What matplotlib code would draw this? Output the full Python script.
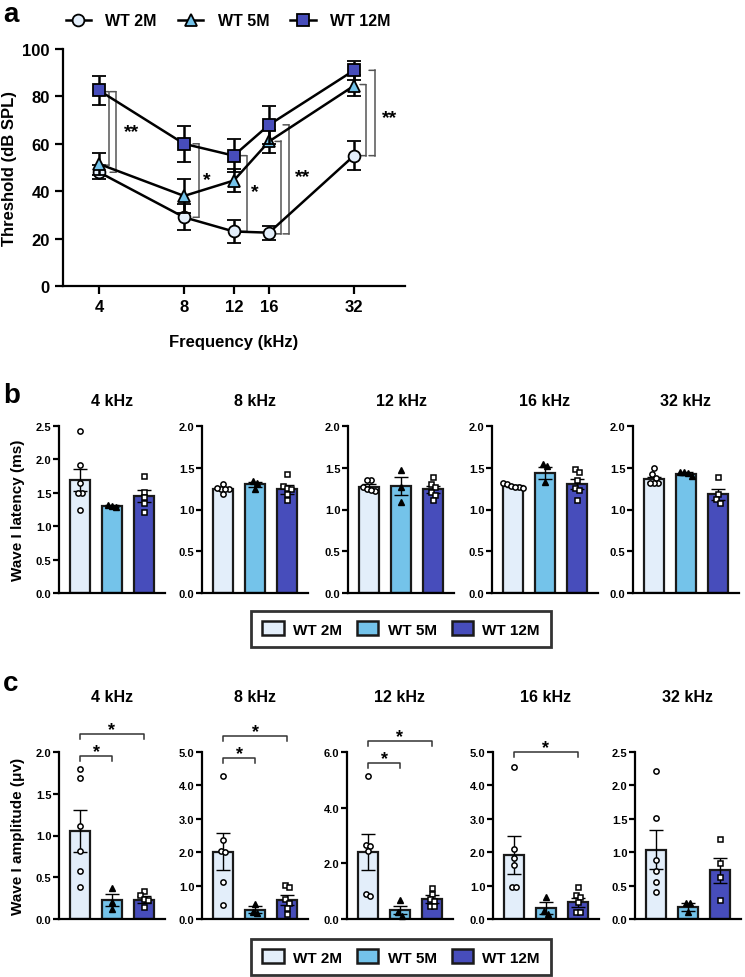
import numpy as np
import matplotlib
matplotlib.use('Agg')
from matplotlib import pyplot as plt
from matplotlib.lines import Line2D
from matplotlib.patches import Patch
from matplotlib.transforms import offset_copy

plt.rcParams['font.family'] = ['Liberation Sans', 'DejaVu Sans']
plt.rcParams['font.weight'] = 'bold'
plt.rcParams['axes.labelweight'] = 'bold'
plt.rcParams['axes.titleweight'] = 'bold'
plt.rcParams['axes.linewidth'] = 1.6
plt.rcParams['xtick.major.width'] = 1.6
plt.rcParams['ytick.major.width'] = 1.6

groups = ['WT 2M', 'WT 5M', 'WT 12M']
freqs = [4, 8, 12, 16, 32]
freq_titles = ['4 kHz', '8 kHz', '12 kHz', '16 kHz', '32 kHz']

# panel a - ABR thresholds (mean, sem)
thr_2m = [48, 29, 23, 22.5, 55]
thr_2m_sem = [3, 5.5, 5, 3, 6]
thr_5m = [51.5, 38, 44.5, 61, 84.5]
thr_5m_sem = [4.5, 7, 5, 5, 4.5]
thr_12m = [82.5, 60, 55, 68, 91]
thr_12m_sem = [6, 7.5, 7, 8, 4]

# significance brackets in panel a: (freq, y_top, y_bottom, x offset px)
a_brackets = [(4, 82, 51, 10), (4, 82, 48, 17),
              (8, 60, 29, 15), (12, 55, 23, 13),
              (16, 61, 22, 12), (16, 68, 22, 20),
              (32, 85, 55, 12), (32, 91, 55, 21)]
a_stars = [(4, '**', 65, 33), (8, '*', 45, 23), (12, '*', 40, 21),
           (16, '**', 46, 34), (32, '**', 71, 36)]

# panel b - wave I latency (ms)
lat_means = [[1.69, 1.30, 1.45], [1.25, 1.30, 1.24], [1.27, 1.28, 1.24],
             [1.28, 1.44, 1.30], [1.36, 1.43, 1.18]]
lat_sems = [[0.17, 0.02, 0.09], [0.02, 0.03, 0.05], [0.03, 0.11, 0.04],
            [0.01, 0.07, 0.06], [0.03, 0.02, 0.07]]
lat_points = [
    [[2.42, 1.91, 1.64, 1.50, 1.50, 1.25], [1.31, 1.30, 1.29], [1.75, 1.51, 1.43, 1.35, 1.22]],
    [[1.31, 1.25, 1.24, 1.25, 1.26, 1.19], [1.34, 1.32, 1.25], [1.43, 1.28, 1.26, 1.25, 1.18, 1.11]],
    [[1.35, 1.35, 1.27, 1.25, 1.22, 1.23], [1.47, 1.27, 1.09], [1.39, 1.31, 1.27, 1.21, 1.17, 1.11]],
    [[1.32, 1.30, 1.28, 1.27, 1.27, 1.26], [1.54, 1.52, 1.33], [1.49, 1.45, 1.35, 1.26, 1.23, 1.11]],
    [[1.50, 1.42, 1.38, 1.32, 1.32, 1.32], [1.45, 1.45, 1.44, 1.40], [1.39, 1.19, 1.13, 1.08]],
]
lat_ymax = [2.5, 2.0, 2.0, 2.0, 2.0]
lat_ystep = [0.5, 0.5, 0.5, 0.5, 0.5]

# panel c - wave I amplitude (uV)
amp_means = [[1.05, 0.23, 0.23], [2.02, 0.28, 0.58], [2.40, 0.33, 0.73],
             [1.92, 0.33, 0.50], [1.04, 0.18, 0.73]]
amp_sems = [[0.25, 0.07, 0.04], [0.54, 0.10, 0.15], [0.65, 0.15, 0.15],
            [0.56, 0.17, 0.14], [0.29, 0.06, 0.19]]
amp_points = [
    [[1.80, 1.69, 1.11, 0.82, 0.57, 0.38], [0.37, 0.20, 0.12], [0.34, 0.29, 0.24, 0.23, 0.14]],
    [[4.28, 2.36, 2.04, 2.01, 1.12, 0.43], [0.45, 0.22, 0.18], [1.03, 0.95, 0.60, 0.48, 0.32, 0.15]],
    [[5.14, 2.67, 2.61, 2.45, 0.91, 0.81], [0.67, 0.24, 0.12], [1.13, 0.91, 0.73, 0.64, 0.45, 0.45]],
    [[4.55, 2.09, 1.84, 1.61, 0.95, 0.95], [0.65, 0.25, 0.15], [0.95, 0.72, 0.65, 0.50, 0.22, 0.20]],
    [[2.22, 1.51, 0.88, 0.72, 0.55, 0.41], [0.24, 0.24, 0.10], [1.20, 0.84, 0.63, 0.28]],
]
amp_ymax = [2.0, 5.0, 6.0, 5.0, 2.5]
amp_ystep = [0.5, 1.0, 2.0, 1.0, 0.5]
# brackets in panel c: (panel, group_from, group_to, y)
amp_brackets = [(0, 0, 1, 1.95), (0, 0, 2, 2.22),
                (1, 0, 1, 4.82), (1, 0, 2, 5.48),
                (2, 0, 1, 5.60), (2, 0, 2, 6.40),
                (3, 0, 2, 5.00)]

bar_colors = ['#E3EEFA', '#74C3EA', '#474DBB']
markers = ['o', '^', 's']

fig = plt.figure(figsize=(7.45, 9.78), dpi=100)
W, H = 745.0, 978.0


def px_axes(x0, y0, x1, y1):
    return fig.add_axes([x0 / W, 1 - y1 / H, (x1 - x0) / W, (y1 - y0) / H])


# ---------------- panel a ----------------
ax = px_axes(63, 50, 405, 287)
ax.set_xscale('log', base=2)
series = [(thr_2m, thr_2m_sem), (thr_5m, thr_5m_sem), (thr_12m, thr_12m_sem)]
msizes = [8.5, 8, 8]
for k, (m, s) in enumerate(series):
    ax.errorbar(freqs, m, yerr=s, color='black', lw=1.8, capsize=5, capthick=1.8,
                marker=markers[k], ms=msizes[k], mfc=bar_colors[k], mec='black', mew=1.3,
                zorder=3 + k)
ax.set_xlim(2.98, 48.5)
ax.set_ylim(0, 100)
ax.set_xticks(freqs)
ax.set_xticklabels([str(f) for f in freqs])
ax.xaxis.set_minor_locator(matplotlib.ticker.NullLocator())
ax.set_yticks(np.arange(0, 101, 20))
ax.tick_params(labelsize=12, length=6)
ax.spines['top'].set_visible(False)
ax.spines['right'].set_visible(False)
ax.set_xlabel('Frequency (kHz)', fontsize=12, labelpad=14)
ax.set_ylabel('Threshold (dB SPL)', fontsize=12, labelpad=4)

for f, ytop, ybot, dx in a_brackets:
    tr = offset_copy(ax.transData, fig=fig, x=dx, y=0, units='dots')
    ax.plot([f, f], [ytop, ybot], color='#555555', lw=1.1, transform=tr, clip_on=False)
    for yy in (ytop, ybot):
        ax.annotate('', xy=(f, yy), xycoords=tr, xytext=(-6, 0), textcoords='offset pixels',
                    arrowprops=dict(arrowstyle='-', color='#555555', lw=1.1,
                                    shrinkA=0, shrinkB=0))
for f, txt, yv, dx in a_stars:
    tr = offset_copy(ax.transData, fig=fig, x=dx, y=0, units='dots')
    ax.text(f, yv, txt, transform=tr, fontsize=14, ha='center', va='center')

handles = [Line2D([0], [0], color='black', lw=1.8, marker=markers[k], ms=msizes[k],
                  mfc=bar_colors[k], mec='black', mew=1.3) for k in range(3)]
fig.legend(handles, groups, loc='center', bbox_to_anchor=(228 / W, 1 - 22 / H), ncol=3,
           frameon=False, fontsize=11.5, handlelength=1.6, handletextpad=0.9,
           columnspacing=1.3)


# ---------------- bar panels ----------------
def spread(vals, tol):
    order = np.argsort(vals)[::-1]
    offs = np.zeros(len(vals))
    grp = [order[0]]
    groups_ = []
    for idx in order[1:]:
        if abs(vals[grp[-1]] - vals[idx]) < tol:
            grp.append(idx)
        else:
            groups_.append(grp)
            grp = [idx]
    groups_.append(grp)
    for g in groups_:
        n = len(g)
        for i, idx in enumerate(g):
            offs[idx] = (i - (n - 1) / 2.0) * 0.13
    return offs


def bar_panel(ax, means, sems, points, ymax, ystep, title, title_pad):
    for j in range(3):
        ax.bar(j, means[j], width=0.62, color=bar_colors[j], edgecolor='#1a1a1a',
               linewidth=1.6, zorder=2)
        ax.errorbar(j, means[j], yerr=sems[j], color='black', lw=1, capsize=5,
                    capthick=1, zorder=4)
        pts = np.array(points[j])
        offs = spread(pts, ymax * 0.025)
        if markers[j] == '^':
            ax.plot(j + offs, pts, linestyle='none', marker='^', ms=3.8, mfc='black',
                    mec='black', zorder=5, clip_on=False)
        else:
            ax.plot(j + offs, pts, linestyle='none', marker=markers[j],
                    ms=3.8 if markers[j] == 'o' else 3.6, mfc='white', mec='black',
                    mew=1.1, zorder=5, clip_on=False)
    ax.set_xlim(-0.66, 2.66)
    ax.set_ylim(0, ymax)
    ticks = np.arange(0, ymax + 1e-9, ystep)
    ax.set_yticks(ticks)
    ax.set_yticklabels(['%.1f' % t for t in ticks])
    ax.set_xticks([])
    ax.tick_params(axis='y', labelsize=8, length=4, pad=1.5)
    ax.spines['top'].set_visible(False)
    ax.spines['right'].set_visible(False)
    ax.set_title(title, fontsize=11.5, pad=title_pad)


b_left = [59, 202, 348, 492, 633]
for i in range(5):
    ax = px_axes(b_left[i], 427, b_left[i] + 106, 594)
    bar_panel(ax, lat_means[i], lat_sems[i], lat_points[i], lat_ymax[i], lat_ystep[i],
              freq_titles[i], 15)
    if i == 0:
        ax.set_ylabel('Wave I latency (ms)', fontsize=11, labelpad=8)

c_left = [59, 202, 347, 493, 635]
c_axes = []
for i in range(5):
    ax = px_axes(c_left[i], 753, c_left[i] + 106, 920)
    bar_panel(ax, amp_means[i], amp_sems[i], amp_points[i], amp_ymax[i], amp_ystep[i],
              freq_titles[i], 37)
    c_axes.append(ax)
    if i == 0:
        ax.set_ylabel('Wave I amplitude (\u03bcv)', fontsize=11, labelpad=8)

for p, g1, g2, yv in amp_brackets:
    ax = c_axes[p]
    h = amp_ymax[p] * 0.03
    ax.plot([g1, g1, g2, g2], [yv - h, yv, yv, yv - h], color='#333333', lw=1.1,
            clip_on=False)
    ax.text((g1 + g2) / 2.0, yv, '*', fontsize=13, ha='center', va='baseline')

leg_handles = [Patch(facecolor=bar_colors[k], edgecolor='#1a1a1a', linewidth=1.8)
               for k in range(3)]
for yc in (630, 958):
    leg = fig.legend(leg_handles, groups, loc='center', bbox_to_anchor=(401 / W, 1 - yc / H),
                     ncol=3, fontsize=11, frameon=True, fancybox=False, edgecolor='black',
                     handlelength=1.4, handleheight=1.0, handletextpad=0.6,
                     columnspacing=1.0, borderpad=0.7)
    leg.get_frame().set_linewidth(2)

# panel letters
fig.text(3 / W, 1 - 2 / H, 'a', fontsize=20, va='top')
fig.text(3 / W, 1 - 396 / H, 'b', fontsize=20, va='center')
fig.text(3 / W, 1 - 684 / H, 'c', fontsize=20, va='center')

fig.savefig('out.png', dpi=100)
